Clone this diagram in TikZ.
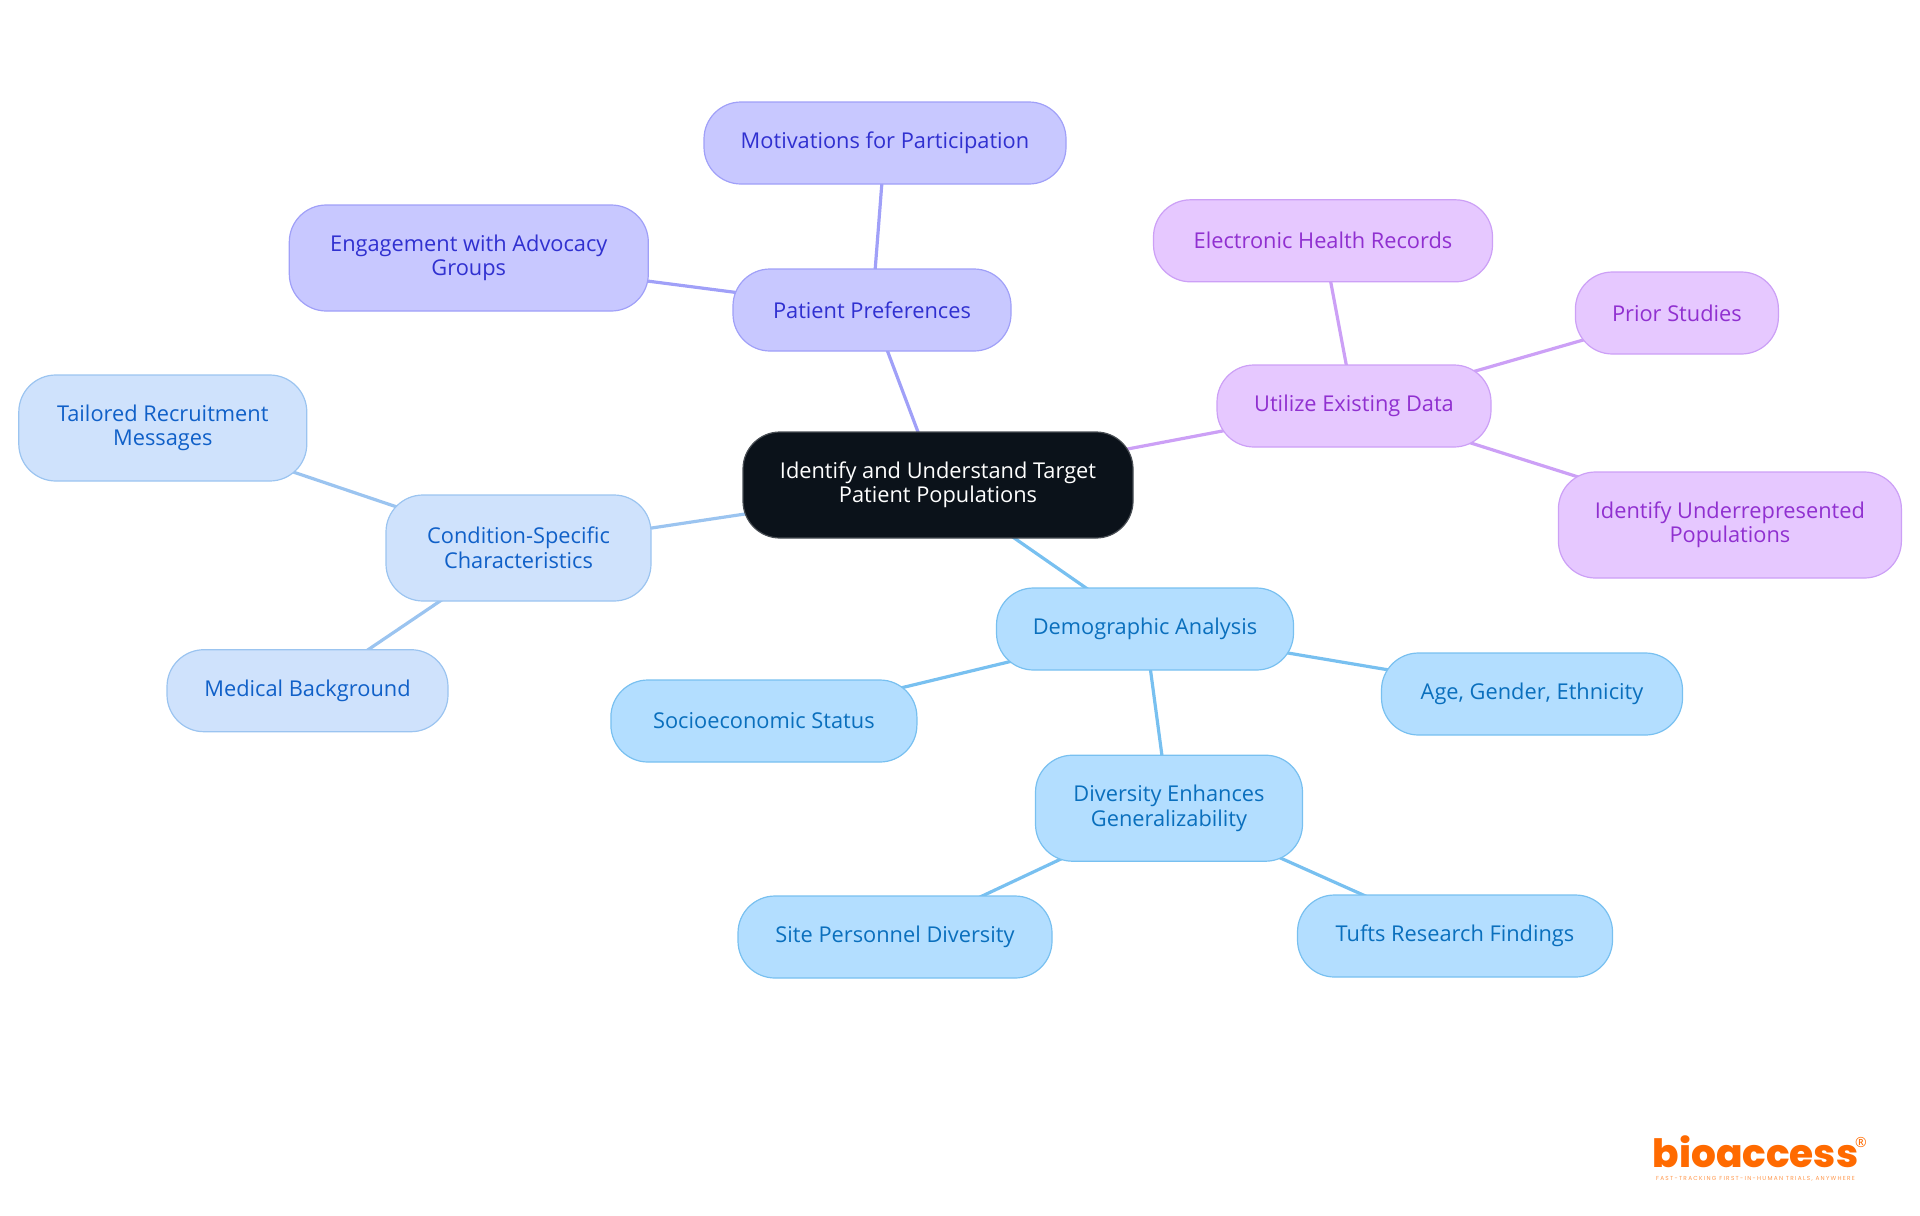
\documentclass[tikz,border=0pt]{standalone}
\usepackage{fontspec}
\usepackage{xcolor}
\usepackage{tikz}
\usetikzlibrary{positioning, backgrounds}
\setmainfont{Open Sans}
\newfontfamily\logofont{Poppins ExtraBold}
\newfontfamily\tagfont[LetterSpace=22]{Poppins}
\definecolor{cRoot}{RGB}{11,18,26}
\definecolor{cPrefFill}{RGB}{200,200,255}
\definecolor{cPrefLine}{RGB}{160,160,248}
\definecolor{cPrefText}{RGB}{48,48,208}
\definecolor{cDataFill}{RGB}{230,200,255}
\definecolor{cDataLine}{RGB}{204,160,246}
\definecolor{cDataText}{RGB}{144,48,208}
\definecolor{cCondFill}{RGB}{207,226,252}
\definecolor{cCondLine}{RGB}{155,196,240}
\definecolor{cCondText}{RGB}{16,96,200}
\definecolor{cDemoFill}{RGB}{179,222,255}
\definecolor{cDemoLine}{RGB}{120,192,240}
\definecolor{cDemoText}{RGB}{10,111,189}
\definecolor{cLogo}{RGB}{255,106,0}
\tikzset{
	base/.style    ={rectangle, rounded corners=18.5pt, inner sep=0pt, align=center, line width=0.6pt, font=\fontsize{10.9}{12.25}\selectfont},
	oneline/.style ={base, minimum height=41pt},
	twoline/.style ={base, minimum height=53pt},
	rootbox/.style ={twoline, minimum width=195pt, fill=cRoot, draw=cRoot!75!white, text=white},
	pref/.style    ={fill=cPrefFill, draw=cPrefLine, text=cPrefText},
	data/.style    ={fill=cDataFill, draw=cDataLine, text=cDataText},
	cond/.style    ={fill=cCondFill, draw=cCondLine, text=cCondText},
	demo/.style    ={fill=cDemoFill, draw=cDemoLine, text=cDemoText},
	link/.style    ={line width=1.6pt},
}

\begin{document}
\begin{tikzpicture}
	\useasboundingbox (0pt,0pt) rectangle (960pt,-607.5pt);
	\node[rootbox] (root) at (469pt,-242.5pt) {Identify and Understand Target\\Patient Populations};
	% upper branch
	\node[oneline, pref, minimum width=139pt, above=39.9pt of root, xshift=-33pt] (prefs) {Patient Preferences};
	\node[oneline, pref, minimum width=181pt, above=41.9pt of prefs, xshift=6.5pt] (motiv) {Motivations for Participation};
	\node[twoline, pref, minimum width=179.5pt, left=41.75pt of prefs, yshift=26pt] (engage) {Engagement with Advocacy\\Groups};
	% right branch
	\node[oneline, data, minimum width=137pt, right=41.4pt of root, yshift=39.5pt] (exist) {Utilize Existing Data};
	\node[oneline, data, minimum width=169.5pt, above=41pt of exist, xshift=-15.5pt] (ehr) {Electronic Health Records};
	\node[oneline, data, minimum width=101.5pt, right=41.6pt of exist, yshift=46.5pt] (prior) {Prior Studies};
	\node[twoline, data, minimum width=171.5pt, right=33.1pt of exist, yshift=-59.5pt] (under) {Identify Underrepresented\\Populations};
	% left branch
	\node[twoline, cond, minimum width=132.5pt, left=45.4pt of root, yshift=-31.5pt] (condit) {Condition-Specific\\Characteristics};
	\node[twoline, cond, minimum width=144pt, left=39pt of condit, yshift=60pt] (tailor) {Tailored Recruitment\\Messages};
	\node[oneline, cond, minimum width=140.5pt, below=23.75pt of condit, xshift=-105.5pt] (medic) {Medical Background};
	% lower branch
	\node[oneline, demo, minimum width=148.5pt, below=24.4pt of root, xshift=103.5pt] (demog) {Demographic Analysis};
	\node[oneline, demo, minimum width=150.5pt, right=43.4pt of demog, yshift=-32.5pt] (age) {Age, Gender, Ethnicity};
	\node[oneline, demo, minimum width=153pt, left=39.2pt of demog, yshift=-46pt] (socio) {Socioeconomic Status};
	\node[twoline, demo, minimum width=133.5pt, below=42pt of demog, xshift=12pt] (divers) {Diversity Enhances\\Generalizability};
	\node[oneline, demo, minimum width=157pt, below=16.8pt of divers, xshift=-137pt] (site) {Site Personnel Diversity};
	\node[oneline, demo, minimum width=157.5pt, below=16.3pt of divers, xshift=143pt] (tufts) {Tufts Research Findings};
	% logo
	\node[inner sep=0pt, text=cLogo, font=\logofont\fontsize{19.5}{20}\selectfont] (logo) at (877.75pt,-576pt) {bioaccess};
	\node[inner sep=0pt, text=cLogo!70!white, font=\tagfont\fontsize{2.9}{3}\selectfont, below=3.8pt of logo] (tagline) {FAST-TRACKING FIRST-IN-HUMAN TRIALS, ANYWHERE};
	\node[inner sep=0pt, text=cLogo, font=\fontsize{7}{7}\selectfont, right=-2pt of logo, yshift=5pt] (regmark) {\textregistered};
	\begin{scope}[on background layer]
		\draw[link, cPrefLine] (root.center) -- (prefs.center);
		\draw[link, cPrefLine] (prefs.center) -- (motiv.center);
		\draw[link, cPrefLine] (prefs.center) -- (engage.center);
		\draw[link, cDataLine] (root.center) -- (exist.center);
		\draw[link, cDataLine] (exist.center) -- (ehr.center);
		\draw[link, cDataLine] (exist.center) -- (prior.center);
		\draw[link, cDataLine] (exist.center) -- (under.center);
		\draw[link, cCondLine] (root.center) -- (condit.center);
		\draw[link, cCondLine] (condit.center) -- (tailor.center);
		\draw[link, cCondLine] (condit.center) -- (medic.center);
		\draw[link, cDemoLine] (root.center) -- (demog.center);
		\draw[link, cDemoLine] (demog.center) -- (age.center);
		\draw[link, cDemoLine] (demog.center) -- (socio.center);
		\draw[link, cDemoLine] (demog.center) -- (divers.center);
		\draw[link, cDemoLine] (divers.center) -- (site.center);
		\draw[link, cDemoLine] (divers.center) -- (tufts.center);
	\end{scope}
\end{tikzpicture}
\end{document}
